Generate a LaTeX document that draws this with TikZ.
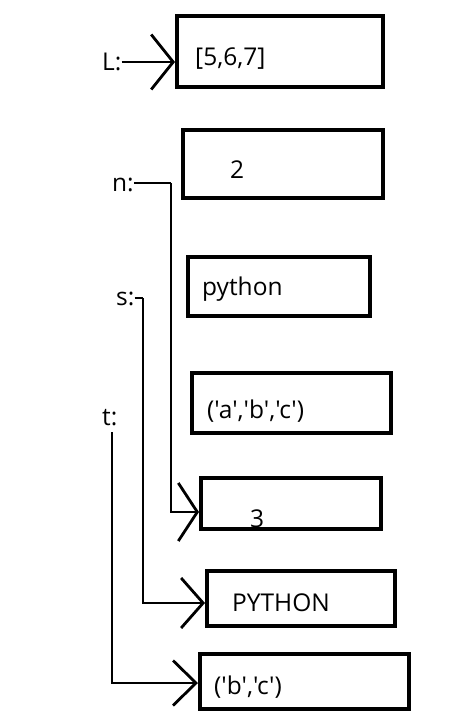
\documentclass[tikz,border=0pt]{standalone}
\usepackage{fontspec}
\setmainfont{Open Sans}[Ligatures=TeXOff]
\usetikzlibrary{arrows.meta}
\begin{document}
\begin{tikzpicture}[x=1pt,y=-1pt,
  box/.style={draw, line width=4pt, inner sep=0pt},
  txt/.style={anchor=base west, inner sep=0pt, font=\fontsize{24.5}{28}\selectfont},
  lab/.style={anchor=base west, inner sep=0pt, font=\fontsize{24.5}{28}\selectfont},
  conn/.style={line width=2.8pt}]
\useasboundingbox (0,0) rectangle (465,720);
% boxes
\node[box, minimum width=206pt, minimum height=71pt] (b1) at (280,51.5) {};
\node[box, minimum width=200pt, minimum height=68pt] (b2) at (283,164) {};
\node[box, minimum width=182pt, minimum height=59pt] (b3) at (279,286.5) {};
\node[box, minimum width=199pt, minimum height=60pt] (b4) at (291.5,403) {};
\node[box, minimum width=180pt, minimum height=51pt] (b5) at (291,503.5) {};
\node[box, minimum width=188pt, minimum height=55pt] (b6) at (301,598.5) {};
\node[box, minimum width=209pt, minimum height=55pt] (b7) at (304.5,681.5) {};
% texts
\node[txt] (t1) at (195,65) {[5,6,7]};
\node[txt] (t2) at (230,178) {2};
\node[txt] (t3) at (202,295) {python};
\node[txt] (t4) at (207,418) {('a','b','c')};
\node[txt] (t5) at (250,527) {3};
\node[txt] (t6) at (232,611) {PYTHON};
\node[txt] (t7) at (214,694) {('b','c')};
% labels
\node[lab] (lL) at (102,70) {L:};
\node[lab] (ln) at (112,191) {n:};
\node[lab] (ls) at (116,305) {s:};
\node[lab] (lt) at (102,425) {t:};
% corner coordinates
\coordinate (cn1) at (171,183);
\coordinate (cn2) at (171,512);
\coordinate (cs1) at (143,298);
\coordinate (cs2) at (143,603);
\coordinate (ct1) at (112,432);
\coordinate (ct2) at (112,683);
% connectors
\draw[conn, -{Straight Barb[length=22pt,width=55pt,line width=2.8pt]}] (lL.east |- 0,62) -- (b1.west |- 0,62);
\draw[conn] (ln.east |- cn1) -- (cn1);
\draw[conn, -{Straight Barb[length=19pt,width=58pt,line width=2.8pt]}] (cn1) -- (cn2) -- (b5.west |- cn2);
\draw[conn] (ls.east |- cs1) -- (cs1);
\draw[conn, -{Straight Barb[length=22pt,width=50pt,line width=2.8pt]}] (cs1) -- (cs2) -- (b6.west |- cs2);
\draw[conn, -{Straight Barb[length=23pt,width=45pt,line width=2.8pt]}] (ct1) -- (ct2) -- (b7.west |- ct2);
\end{tikzpicture}
\end{document}
